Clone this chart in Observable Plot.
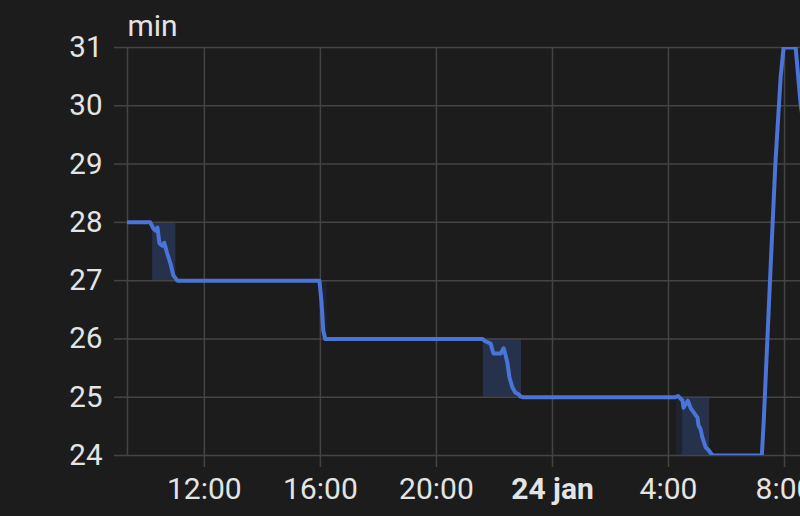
<!DOCTYPE html>
<html>
<head>
<meta charset="utf-8">
<script src="https://cdn.jsdelivr.net/npm/d3@7"></script>
<script src="https://cdn.jsdelivr.net/npm/@observablehq/plot@0.6"></script>
<style>
  html, body { margin: 0; padding: 0; background: #1c1c1c; }
  #chart svg { display: block; }
</style>
</head>
<body>
<div id="chart"></div>
<script>
// Time stamps (local time) and values in minutes
const times = [
  "2024-01-23T09:21", "2024-01-23T10:08", "2024-01-23T10:14", "2024-01-23T10:19",
  "2024-01-23T10:23", "2024-01-23T10:27", "2024-01-23T10:33", "2024-01-23T10:37",
  "2024-01-23T10:43", "2024-01-23T10:50", "2024-01-23T10:56", "2024-01-23T11:04",
  "2024-01-23T15:58", "2024-01-23T16:02", "2024-01-23T16:06", "2024-01-23T16:10",
  "2024-01-23T21:35", "2024-01-23T21:41", "2024-01-23T21:52", "2024-01-23T21:58",
  "2024-01-23T22:06", "2024-01-23T22:13", "2024-01-23T22:19", "2024-01-23T22:23",
  "2024-01-23T22:27", "2024-01-23T22:31", "2024-01-23T22:37", "2024-01-23T22:43",
  "2024-01-23T22:50", "2024-01-23T22:54", "2024-01-23T23:00",
  "2024-01-24T04:14", "2024-01-24T04:20", "2024-01-24T04:29", "2024-01-24T04:31",
  "2024-01-24T04:40", "2024-01-24T04:46", "2024-01-24T04:52", "2024-01-24T05:00",
  "2024-01-24T05:02", "2024-01-24T05:06", "2024-01-24T05:10", "2024-01-24T05:17",
  "2024-01-24T05:23", "2024-01-24T05:31",
  "2024-01-24T07:13", "2024-01-24T07:17", "2024-01-24T07:31", "2024-01-24T07:41",
  "2024-01-24T07:52", "2024-01-24T07:58", "2024-01-24T08:23", "2024-01-24T08:33",
  "2024-01-24T08:39"
];
const values = [
  28, 28, 27.9, 27.86,
  27.91, 27.64, 27.6, 27.65,
  27.47, 27.29, 27.09, 27.0,
  27.0, 26.66, 26.14, 26.0,
  26.0, 25.96, 25.92, 25.75,
  25.75, 25.75, 25.84, 25.72,
  25.58, 25.34, 25.17, 25.08,
  25.05, 25.01, 25.0,
  25.0, 25.02, 24.94, 24.82,
  24.94, 24.81, 24.74, 24.65,
  24.52, 24.46, 24.31, 24.14,
  24.09, 24.0,
  24.0, 24.6, 27.2, 29.0,
  30.5, 31.0, 31.0, 30.05,
  29.7
];

// Shaded change bands (start, end, top, bottom)
const bandStart = ["2024-01-23T10:13", "2024-01-23T15:59", "2024-01-23T21:37", "2024-01-24T04:16", "2024-01-24T04:29"];
const bandEnd   = ["2024-01-23T11:01", "2024-01-23T16:14", "2024-01-23T22:56", "2024-01-24T05:25", "2024-01-24T05:25"];
const bandTop   = [28, 27, 26, 25, 25];
const bandBottom= [27, 26, 25, 24, 24];
const bandOpacity = [1, 0.35, 1, 0.35, 1];

const yTicks = [24, 25, 26, 27, 28, 29, 30, 31];
const xTicks = ["2024-01-23T12:00", "2024-01-23T16:00", "2024-01-23T20:00", "2024-01-24T00:00", "2024-01-24T04:00", "2024-01-24T08:00"];
const xDomain = ["2024-01-23T09:21", "2024-01-24T08:33"];
const unitLabel = "min";

const parse = s => new Date(s);
const series = times.map((t, i) => ({t: parse(t), v: values[i]}));
const bands = bandStart.map((s, i) => ({x1: parse(s), x2: parse(bandEnd[i]), y1: bandBottom[i], y2: bandTop[i], o: bandOpacity[i]}));
const ticks = xTicks.map(parse);
const midnightTicks = ticks.filter(d => d.getHours() === 0 && d.getMinutes() === 0);
const hourTicks = ticks.filter(d => !(d.getHours() === 0 && d.getMinutes() === 0));
const months = ["jan","feb","mrt","apr","mei","jun","jul","aug","sep","okt","nov","dec"];

const textColor = "#e4e4e4";
const gridColor = "#444444";
const lineColor = "#4a74d8";
const font = "Roboto, 'Noto Sans', sans-serif";

const chart = Plot.plot({
  width: 800,
  height: 516,
  marginLeft: 127,
  marginTop: 47,
  marginBottom: 61,
  marginRight: 0,
  style: {background: "#1c1c1c", color: textColor, fontFamily: font, fontSize: "30px"},
  x: {type: "time", domain: xDomain.map(parse)},
  y: {domain: [24, 31]},
  marks: [
    Plot.rect(bands, {x1: "x1", x2: "x2", y1: "y1", y2: "y2", fill: "#26314b", fillOpacity: "o"}),
    Plot.gridY(yTicks, {stroke: gridColor, strokeOpacity: 1, strokeWidth: 1.5}),
    Plot.gridX(ticks, {stroke: gridColor, strokeOpacity: 1, strokeWidth: 1.5}),
    Plot.ruleX([parse(xDomain[0])], {stroke: gridColor, strokeWidth: 1.5}),
    Plot.axisY(yTicks, {
      tickSize: 13, tickPadding: 12, stroke: gridColor, strokeWidth: 1.5,
      fill: textColor, fontSize: 29.5, label: null,
      tickFormat: d => String(d)
    }),
    Plot.axisX(hourTicks, {
      tickSize: 12, tickPadding: 10, stroke: gridColor, strokeWidth: 1.5,
      fill: textColor, fontSize: 30, label: null,
      tickFormat: d3.timeFormat("%-H:%M")
    }),
    Plot.axisX(midnightTicks, {
      tickSize: 12, tickPadding: 10, stroke: gridColor, strokeWidth: 1.5,
      fill: textColor, fontSize: 30, fontWeight: "bold", label: null,
      tickFormat: d => `${d.getDate()} ${months[d.getMonth()]}`
    }),
    Plot.line(series, {x: "t", y: "v", stroke: lineColor, strokeWidth: 4, strokeLinejoin: "round", strokeLinecap: "round", clip: true}),
    Plot.text([unitLabel], {frameAnchor: "top-left", textAnchor: "start", lineAnchor: "bottom", dy: -12, fill: textColor, fontSize: 30})
  ]
});
document.getElementById("chart").appendChild(chart);
</script>
</body>
</html>
